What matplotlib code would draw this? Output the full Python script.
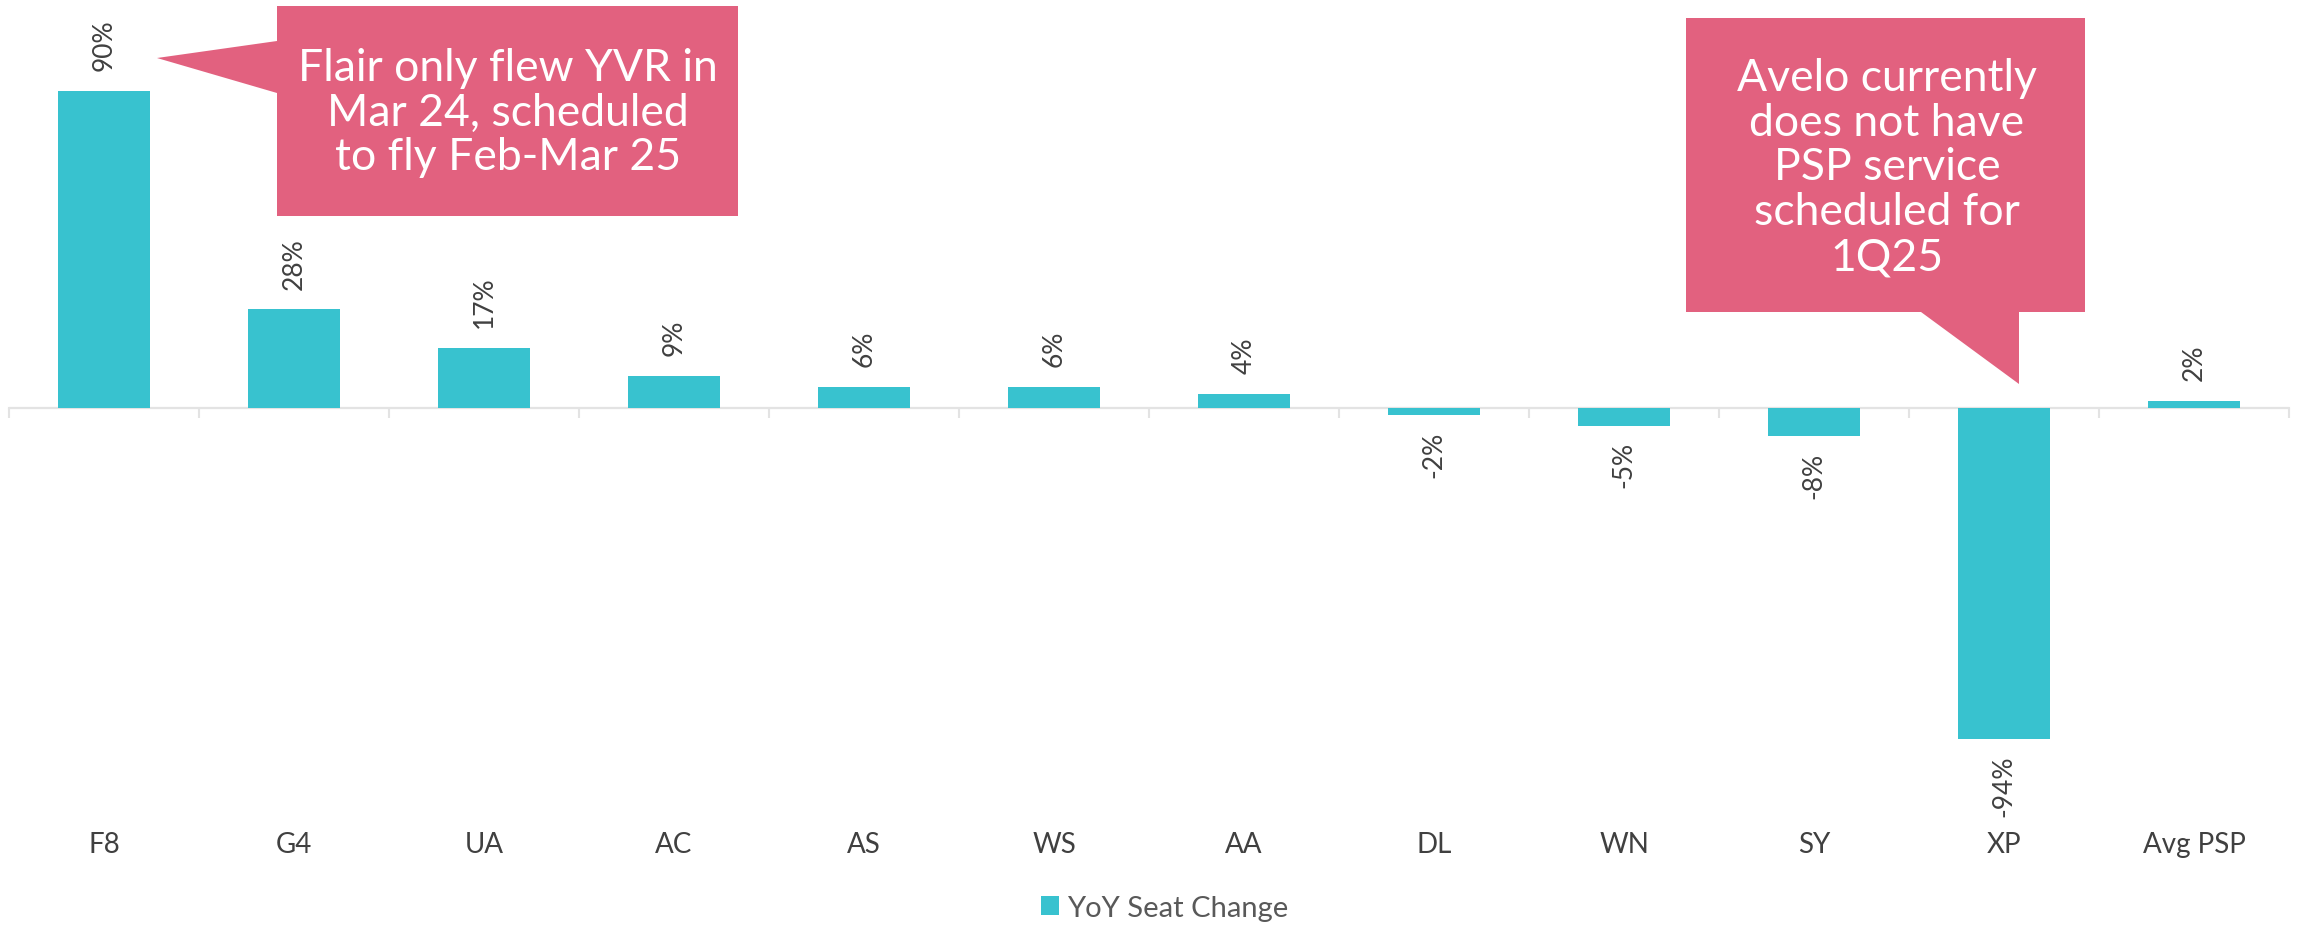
import matplotlib
matplotlib.use("Agg")
import matplotlib.pyplot as plt
from matplotlib.patches import Polygon
import numpy as np

carriers = ["F8", "G4", "UA", "AC", "AS", "WS", "AA", "DL", "WN", "SY", "XP", "Avg PSP"]
seat_change = [90, 28, 17, 9, 6, 6, 4, -2, -5, -8, -94, 2]
series_name = "YoY Seat Change"
note_flair = "Flair only flew YVR in\nMar 24, scheduled\nto fly Feb-Mar 25"
note_avelo = "Avelo currently\ndoes not have\nPSP service\nscheduled for\n1Q25"

TEAL = "#38C2CF"
PINK = "#E2617F"
GREY = "#404040"

plt.rcParams['font.family'] = ['Lato', 'DejaVu Sans']

W, H = 2297, 928
fig = plt.figure(figsize=(W / 100, H / 100), dpi=100)

def fx(px):
    return px / W

def fy(py):
    return 1 - py / H

zero_px = 409.0
scale = 3.52  # px per %
ax_top_px, ax_bot_px = 0.0, 800.0
ax_left_px, ax_right_px = 9.0, 2289.0
ymax = (zero_px - ax_top_px) / scale
ymin = -(ax_bot_px - zero_px) / scale

ax = fig.add_axes([fx(ax_left_px), fy(ax_bot_px), (ax_right_px - ax_left_px) / W,
                   (ax_bot_px - ax_top_px) / H])
x = np.arange(len(carriers))
bars = ax.bar(x, seat_change, width=0.48, color=TEAL, label=series_name, zorder=3)
ax.set_xlim(-0.5, len(carriers) - 0.5)
ax.set_ylim(ymin, ymax)
for s in ax.spines.values():
    s.set_visible(False)
ax.set_yticks([])
ax.set_xticks(x)
ax.set_xticklabels(carriers, fontsize=20, color=GREY)
ax.tick_params(axis='x', length=0, pad=23)

# zero axis line with category separators
loc = (0 - ymin) / (ymax - ymin)
sec = ax.secondary_xaxis(loc)
sec.spines['bottom'].set_color("#E3E3E3")
sec.spines['bottom'].set_linewidth(1.5)
sec.set_xticks(np.arange(len(carriers) + 1) - 0.5)
sec.set_xticklabels([])
sec.tick_params(axis='x', length=7, width=1.5, color="#E3E3E3", direction='out')
ax.axhline(0, color="#E3E3E3", lw=1.5, zorder=2)

for xi, v in zip(x, seat_change):
    if v >= 0:
        ax.annotate(f"{v}%", (xi, v), xytext=(0, 15), textcoords='offset points',
                    rotation=90, ha='center', va='bottom', fontsize=19, color=GREY)
    else:
        ax.annotate(f"{v}%", (xi, v), xytext=(0, -11), textcoords='offset points',
                    rotation=90, ha='center', va='top', fontsize=19, color=GREY)

# callouts
c1 = [(277, 7), (738, 7), (738, 217), (277, 217), (277, 94), (157, 59), (277, 42)]
c2 = [(1686, 19), (2085, 19), (2085, 313), (2019, 313), (2019, 385), (1921, 313), (1686, 313)]
for pts in (c1, c2):
    fig.patches.append(Polygon([(fx(a), fy(b)) for a, b in pts], closed=True,
                               transform=fig.transFigure, facecolor=PINK,
                               edgecolor='none', zorder=5))
fig.text(fx(508), fy(113), note_flair, ha='center', va='center', fontsize=32,
         color='white', linespacing=1.12, fontweight='normal', zorder=6)
fig.text(fx(1887), fy(168), note_avelo, ha='center', va='center', fontsize=32,
         color='white', linespacing=1.12, fontweight='normal', zorder=6)

leg = fig.legend(handles=[bars], labels=[series_name], loc='center',
                 bbox_to_anchor=(fx(1165), fy(909)), frameon=False, fontsize=21,
                 handlelength=0.6, handleheight=0.6, handletextpad=0.3)
for t in leg.get_texts():
    t.set_color("#595959")

fig.savefig("out.png", dpi=100, facecolor='white')
